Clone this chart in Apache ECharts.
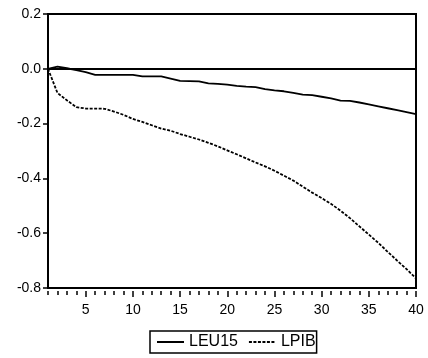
<!DOCTYPE html>
<html><head><meta charset="utf-8">
<script src="https://cdn.jsdelivr.net/npm/echarts@6/dist/echarts.min.js"></script>
<style>html,body{margin:0;padding:0;background:#fff}#c{width:428px;height:358px}</style>
</head><body><div id="c"></div>
<script>
const periods = Array.from({length:40},(_,i)=>String(i+1));
const leu15 = [0,0.008,0.002,-0.005,-0.012,-0.022,-0.022,-0.022,-0.022,-0.022,
 -0.028,-0.028,-0.028,-0.036,-0.044,-0.045,-0.046,-0.053,-0.055,-0.058,
 -0.062,-0.065,-0.067,-0.074,-0.079,-0.082,-0.088,-0.094,-0.096,-0.102,
 -0.108,-0.116,-0.117,-0.123,-0.130,-0.137,-0.144,-0.151,-0.158,-0.165];
const lpib = [0,-0.088,-0.115,-0.140,-0.145,-0.145,-0.146,-0.156,-0.168,-0.183,
 -0.194,-0.206,-0.218,-0.226,-0.238,-0.248,-0.258,-0.270,-0.283,-0.298,
 -0.312,-0.327,-0.342,-0.356,-0.372,-0.390,-0.408,-0.430,-0.452,-0.472,
 -0.493,-0.518,-0.545,-0.575,-0.605,-0.635,-0.668,-0.700,-0.731,-0.765];
const seriesNames = ['LEU15','LPIB'];
const yMin = -0.8, yMax = 0.2, yStep = 0.2;

const font = 'Liberation Sans, Arial, sans-serif';
const chart = echarts.init(document.getElementById('c'), null, {renderer:'canvas'});
const isMajor = (i, v) => (+v) % 5 === 0;
chart.setOption({
  animation:false,
  textStyle:{fontFamily:font,color:'#000'},
  grid:{left:48,top:14,width:368,height:274,show:true,borderColor:'#000',borderWidth:2,containLabel:false},
  legend:{
    data:seriesNames, left:150, top:331, orient:'horizontal',
    borderColor:'#000', borderWidth:1.5, borderRadius:0,
    padding:[3,1,3,6], itemGap:10, itemWidth:27, itemHeight:12,
    itemStyle:{opacity:0},
    textStyle:{fontFamily:font,fontSize:16,color:'#000'}
  },
  xAxis:[{
    type:'category', data:periods, boundaryGap:false,
    axisLine:{lineStyle:{color:'#000',width:2}},
    axisTick:{show:false}, axisLabel:{show:false}, splitLine:{show:false}
  },{
    type:'category', data:periods, boundaryGap:false, position:'bottom', offset:3,
    axisLine:{show:false},
    axisTick:{show:true,interval:0,length:4,lineStyle:{color:'#000',width:1.5}},
    axisLabel:{show:false}, splitLine:{show:false}
  },{
    type:'category', data:periods, boundaryGap:false, position:'bottom', offset:3,
    axisLine:{show:false},
    axisTick:{show:true,interval:isMajor,length:6,lineStyle:{color:'#000',width:1.5}},
    axisLabel:{show:true,interval:isMajor,fontSize:14,color:'#000',margin:12,fontFamily:font},
    splitLine:{show:false}
  }],
  yAxis:{
    type:'value', min:yMin, max:yMax, interval:yStep,
    axisLine:{show:true,lineStyle:{color:'#000',width:2}},
    axisTick:{show:true,length:5,lineStyle:{color:'#000',width:1.5}},
    axisLabel:{fontSize:14,color:'#000',margin:7,fontFamily:font,formatter:v=>v.toFixed(1)},
    splitLine:{show:false}
  },
  series:[{
    name:seriesNames[0], type:'line', data:leu15, xAxisIndex:0, symbol:'none',
    lineStyle:{color:'#000',width:1.8,type:'solid'}, itemStyle:{color:'#000'},
    markLine:{silent:true,symbol:['none','none'],label:{show:false},
      lineStyle:{color:'#000',width:2,type:'solid'},
      data:[{yAxis:0,lineStyle:{color:'#000',width:2,type:'solid'}}]}
  },{
    name:seriesNames[1], type:'line', data:lpib, xAxisIndex:0, symbol:'none',
    lineStyle:{color:'#000',width:1.8,type:[3,1.5]}, itemStyle:{color:'#000'}
  }]
});
</script></body></html>
